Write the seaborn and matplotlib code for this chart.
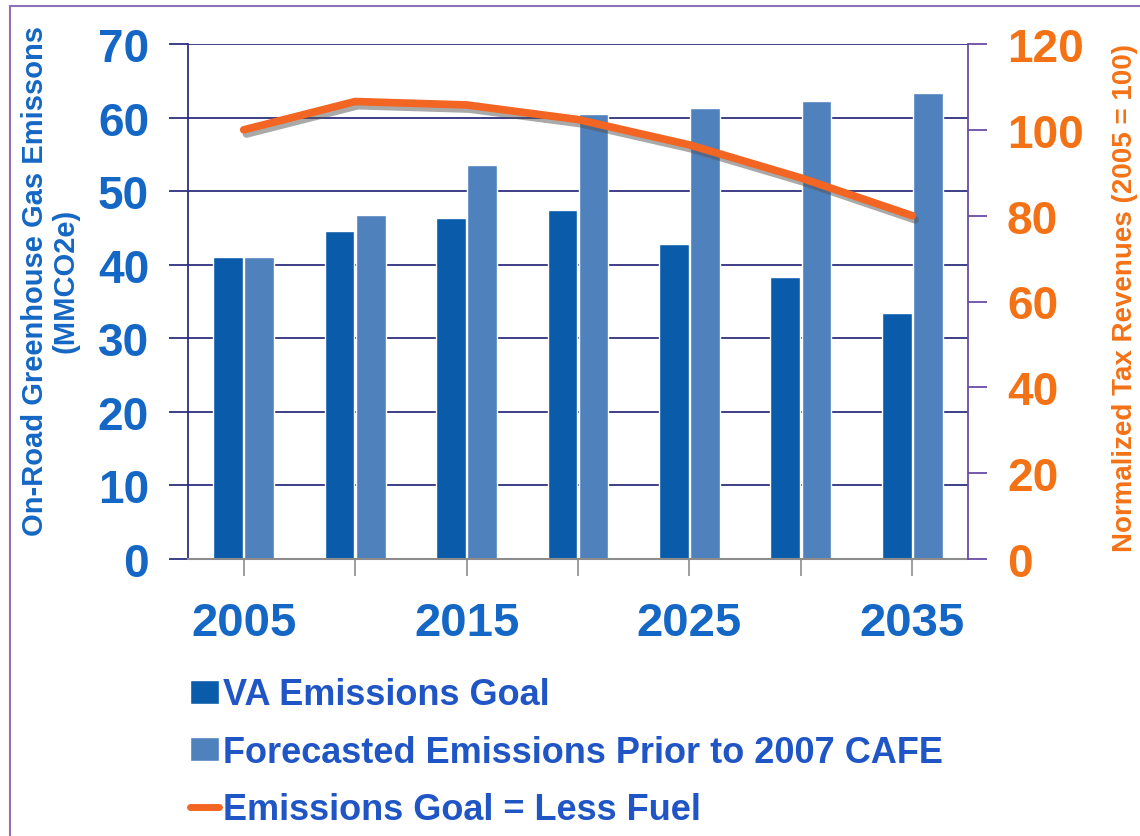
#!/usr/bin/env python3
import numpy as np
import pandas as pd
from matplotlib import pyplot as plt
from matplotlib import patheffects as pe
from matplotlib import font_manager
from matplotlib.patches import Patch, Rectangle
from matplotlib.lines import Line2D
import seaborn as sns

years = ['2005', '2010', '2015', '2020', '2025', '2030', '2035']
va_goal = [41.0, 44.6, 46.4, 47.4, 42.8, 38.3, 33.4]
forecast = [41.0, 46.8, 53.5, 60.5, 61.3, 62.3, 63.3]
tax_rev = [100.0, 106.6, 105.8, 102.4, 96.5, 88.8, 80.0]
series = ['VA Emissions Goal', 'Forecasted Emissions Prior to 2007 CAFE']
line_name = 'Emissions Goal = Less Fuel'

DARK = '#0A5CAB'
LIGHT = '#4F81BD'
ORANGE = '#F26522'
ORANGE_TXT = '#F47216'
BLUE_TXT = '#1467C4'
NAVY = '#2F2F80'
PURPLE = '#6A4BA6'

names = {f.name for f in font_manager.fontManager.ttflist}
narrow = 'Liberation Sans Narrow' if 'Liberation Sans Narrow' in names else 'Liberation Sans'

sns.set_style('white')
plt.rcParams['font.family'] = ['Liberation Sans', 'DejaVu Sans']

df = pd.DataFrame({
    'Year': years * 2,
    'Emissions': va_goal + forecast,
    'Series': [series[0]] * len(years) + [series[1]] * len(years),
})

fig = plt.figure(figsize=(11.4, 8.37), dpi=100)
ax = fig.add_axes([188/1140, 1-560/837, (968-188)/1140, (560-45)/837])
ax.yaxis.grid(True, color=NAVY, lw=1.3)
ax.set_axisbelow(True)
sns.barplot(data=df, x='Year', y='Emissions', hue='Series', order=years,
            hue_order=series, palette=[DARK, LIGHT], width=0.56, gap=0.05,
            saturation=1, ax=ax, legend=False)
ax.set_xlim(-0.5, len(years)-0.5)
ax.set_ylim(0, 70)
ax.set_yticks(np.arange(0, 71, 10))
ax.set_xticks(np.arange(len(years)))
ax.set_xticklabels([y if i % 2 == 0 else '' for i, y in enumerate(years)])
ax.set_xlabel('')
ax.set_ylabel('')
ax.tick_params(axis='y', length=14, width=1.3, color=NAVY, labelsize=33,
               labelcolor=BLUE_TXT, pad=14, left=True)
ax.tick_params(axis='x', length=12, width=1.2, color='#8c8c8c', labelsize=34,
               labelcolor=BLUE_TXT, pad=18, bottom=True)
for t in ax.get_yticklabels() + ax.get_xticklabels():
    t.set_fontweight('bold')
ax.spines['left'].set_color(NAVY)
ax.spines['left'].set_linewidth(1.3)
ax.spines['bottom'].set_color('#8c8c8c')
ax.spines['bottom'].set_linewidth(1.5)
ax.spines['top'].set_visible(False)
ax.spines['right'].set_visible(False)

ax2 = ax.twinx()
sns.lineplot(x=np.arange(len(years)), y=tax_rev, ax=ax2, color=ORANGE, lw=5.5,
             path_effects=[pe.SimpleLineShadow(offset=(2, -3), shadow_color='#555555', alpha=0.5),
                           pe.Normal()])
ax2.set_ylim(0, 120)
ax2.set_yticks(np.arange(0, 121, 20))
ax2.tick_params(axis='y', length=14, width=1.3, color=PURPLE, labelsize=33,
                labelcolor=ORANGE_TXT, pad=14, right=True)
for t in ax2.get_yticklabels():
    t.set_fontweight('bold')
ax2.grid(False)
for s in ['left', 'top', 'bottom']:
    ax2.spines[s].set_visible(False)
ax2.spines['right'].set_color(PURPLE)
ax2.spines['right'].set_linewidth(1.3)

fig.text(50/1140, 1-281/837, 'On-Road Greenhouse Gas Emissons\n(MMCO2e)',
         rotation=90, ha='center', va='center', color=BLUE_TXT, fontsize=21,
         fontweight='bold', linespacing=1.1)
fig.text(1125/1140, 1-298/837, 'Normalized Tax Revenues (2005 = 100)',
         rotation=90, ha='center', va='center', color=ORANGE_TXT, fontsize=20,
         family=[narrow, 'DejaVu Sans'], fontweight='bold')

handles = [Patch(facecolor=DARK), Patch(facecolor=LIGHT),
           Line2D([], [], color=ORANGE, lw=5)]
fig.legend(handles, series + [line_name], loc='upper left',
           bbox_to_anchor=(176/1140, 1-664/837), frameon=False,
           prop={'family': [narrow, 'DejaVu Sans'], 'weight': 'bold', 'size': 26},
           labelcolor='#1F55C4', handlelength=0.8, handleheight=0.65,
           handletextpad=0.1, labelspacing=0.62, borderaxespad=0)

fig.patches.append(Rectangle((10/1140, -0.1), 1.5, 1.1-7/837, transform=fig.transFigure,
                             fill=False, edgecolor='#8E72B8', lw=1.5))
fig.savefig('out.png', dpi=100)
